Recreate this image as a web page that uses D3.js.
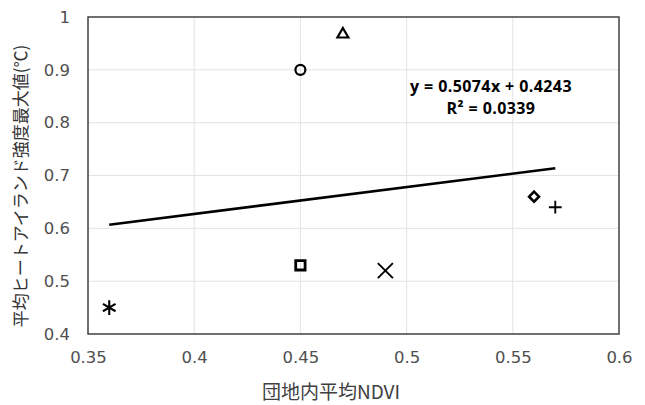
<!DOCTYPE html>
<html>
<head>
<meta charset="utf-8">
<script src="https://cdn.jsdelivr.net/npm/d3@7"></script>
<style>
  body { margin: 0; background: #fff; }
</style>
</head>
<body>
<svg id="chart" width="645" height="405"></svg>
<script>
// data
var ndvi = [0.45, 0.47, 0.56, 0.57, 0.45, 0.49, 0.36];
var heat = [0.90, 0.97, 0.66, 0.64, 0.53, 0.52, 0.45];
var shapes = ["circle", "triangle", "diamond", "plus", "square", "times", "asterisk"];

var xTicks = [0.35, 0.4, 0.45, 0.5, 0.55, 0.6];
var yTicks = [0.4, 0.5, 0.6, 0.7, 0.8, 0.9, 1];

// trend line (Excel linear fit)
var slope = 0.5074;
var intercept = 0.4243;
var eqLabels = ["y = 0.5074x + 0.4243", "R² = 0.0339"];

var xTitle = "団地内平均NDVI";
var yTitle = "平均ヒートアイランド強度最大値(℃)";

var svg = d3.select("#chart");

var x = d3.scaleLinear().domain([0.35, 0.6]).range([88, 619]);
var y = d3.scaleLinear().domain([0.4, 1]).range([334, 17]);

// gridlines
svg.append("g")
  .selectAll("line.vg")
  .data(xTicks.slice(1, -1))
  .enter()
  .append("line")
  .attr("x1", function (d) { return x(d); })
  .attr("x2", function (d) { return x(d); })
  .attr("y1", y(0.4))
  .attr("y2", y(1))
  .attr("stroke", "#e3e3e3")
  .attr("stroke-width", 1);

svg.append("g")
  .selectAll("line.hg")
  .data(yTicks.slice(1, -1))
  .enter()
  .append("line")
  .attr("x1", x(0.35))
  .attr("x2", x(0.6))
  .attr("y1", function (d) { return y(d); })
  .attr("y2", function (d) { return y(d); })
  .attr("stroke", "#e3e3e3")
  .attr("stroke-width", 1);

// plot border
svg.append("rect")
  .attr("x", x(0.35))
  .attr("y", y(1))
  .attr("width", x(0.6) - x(0.35))
  .attr("height", y(0.4) - y(1))
  .attr("fill", "none")
  .attr("stroke", "#404040")
  .attr("stroke-width", 1.5);

// axes (labels only)
var fmt = function (d) { return String(+d.toFixed(2)); };

var gx = svg.append("g")
  .attr("transform", "translate(0," + y(0.4) + ")")
  .call(d3.axisBottom(x).tickValues(xTicks).tickFormat(fmt).tickSize(0).tickPadding(17));
gx.select(".domain").remove();
gx.selectAll("text")
  .attr("font-family", "DejaVu Sans")
  .attr("font-size", 16.5)
  .attr("fill", "#505050");

var gy = svg.append("g")
  .attr("transform", "translate(" + x(0.35) + ",0)")
  .call(d3.axisLeft(y).tickValues(yTicks).tickFormat(fmt).tickSize(0).tickPadding(18));
gy.select(".domain").remove();
gy.selectAll("text")
  .attr("font-family", "DejaVu Sans")
  .attr("font-size", 16.5)
  .attr("fill", "#505050");

// trend line
var xMin = d3.min(ndvi), xMax = d3.max(ndvi);
svg.append("line")
  .attr("x1", x(xMin))
  .attr("y1", y(slope * xMin + intercept))
  .attr("x2", x(xMax))
  .attr("y2", y(slope * xMax + intercept))
  .attr("stroke", "#000")
  .attr("stroke-width", 2.5);

// markers
var symbolType = {
  circle: d3.symbolCircle,
  triangle: d3.symbolTriangle2,
  diamond: d3.symbolDiamond2,
  plus: d3.symbolPlus,
  square: d3.symbolSquare2,
  times: d3.symbolTimes,
  asterisk: d3.symbolAsterisk
};
var symbolSize = { circle: 78, triangle: 85, diamond: 62, plus: 55, square: 112, times: 150, asterisk: 150 };
var symbolStroke = { circle: 2.2, triangle: 2.2, diamond: 2.6, plus: 1.9, square: 2.8, times: 1.9, asterisk: 2.1 };

svg.append("g")
  .selectAll("path")
  .data(ndvi)
  .enter()
  .append("path")
  .attr("transform", function (d, i) {
    var dy = shapes[i] == "triangle" ? 1.5 : 0;
    return "translate(" + x(d) + "," + (y(heat[i]) + dy) + ")";
  })
  .attr("d", function (d, i) {
    return d3.symbol().type(symbolType[shapes[i]]).size(symbolSize[shapes[i]])();
  })
  .attr("fill", "none")
  .attr("stroke", "#000")
  .attr("stroke-width", function (d, i) { return symbolStroke[shapes[i]]; });

// equation label
svg.append("g")
  .selectAll("text")
  .data(eqLabels)
  .enter()
  .append("text")
  .attr("x", 491)
  .attr("y", function (d, i) { return 92 + i * 22; })
  .attr("text-anchor", "middle")
  .attr("font-family", "Open Sans")
  .attr("font-weight", "bold")
  .attr("font-size", 16)
  .attr("letter-spacing", 0.4)
  .attr("fill", "#000")
  .text(function (d) { return d; });

// axis titles
svg.append("text")
  .attr("x", 331)
  .attr("y", 399)
  .attr("text-anchor", "middle")
  .attr("font-family", "Noto Sans CJK JP")
  .attr("font-size", 19)
  .attr("fill", "#404040")
  .text(xTitle);

svg.append("text")
  .attr("transform", "translate(27,186) rotate(-90)")
  .attr("text-anchor", "middle")
  .attr("font-family", "Noto Sans CJK JP")
  .attr("font-size", 17)
  .attr("fill", "#333")
  .text(yTitle);
</script>
</body>
</html>
